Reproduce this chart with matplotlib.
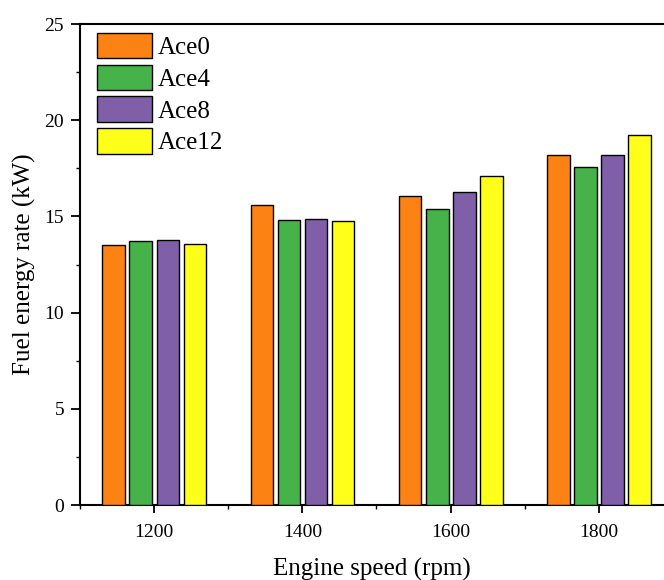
import matplotlib
matplotlib.use("Agg")
import matplotlib.pyplot as plt
from matplotlib.ticker import MultipleLocator
import numpy as np

speeds = [1200, 1400, 1600, 1800]
series = ["Ace0", "Ace4", "Ace8", "Ace12"]
ace0 = [13.51, 15.60, 16.08, 18.17]
ace4 = [13.70, 14.80, 15.38, 17.55]
ace8 = [13.75, 14.84, 16.27, 18.17]
ace12 = [13.57, 14.75, 17.10, 19.21]
values = [ace0, ace4, ace8, ace12]
colors = ["#FC8213", "#46B34A", "#7F5FA8", "#FFFF1A"]

plt.rcParams['font.family'] = ['Liberation Serif', 'DejaVu Serif']

fig = plt.figure(figsize=(6.64, 5.80), dpi=100)
ax = fig.add_axes([0.1205, 0.1293, 0.8795, 0.8293])

offsets = [-54.5, -18, 18.5, 55]
width = 30.5
for vals, off, c, lab in zip(values, offsets, colors, series):
    ax.bar(np.array(speeds) + off, vals, width=width, color=c,
           edgecolor='black', linewidth=1.0, label=lab, zorder=3)

ax.set_xlim(1100, 1888)
ax.set_ylim(0, 25)
ax.xaxis.set_major_locator(MultipleLocator(200))
ax.xaxis.set_minor_locator(MultipleLocator(100))
ax.yaxis.set_major_locator(MultipleLocator(5))
ax.yaxis.set_minor_locator(MultipleLocator(2.5))
ax.spines['right'].set_visible(False)
for s in ['left', 'bottom', 'top']:
    ax.spines[s].set_linewidth(1.5)
ax.tick_params(which='major', direction='out', length=6.5, width=1.3, labelsize=14)
ax.tick_params(which='minor', direction='out', length=3, width=1.0)
ax.tick_params(axis='x', which='major', pad=8, length=6)
ax.tick_params(axis='y', which='major', pad=5)

ax.set_xlabel("Engine speed (rpm)", fontsize=18, labelpad=12)
ax.set_ylabel("Fuel energy rate (kW)", fontsize=18, labelpad=6)

leg = ax.legend(loc='upper left', frameon=False, fontsize=18,
                handlelength=2.2, handleheight=1.2, labelspacing=0.22,
                handletextpad=0.25, borderaxespad=0.0, borderpad=0.35,
                bbox_to_anchor=(0.0137, 1.0))

fig.savefig("out.png", dpi=100)
